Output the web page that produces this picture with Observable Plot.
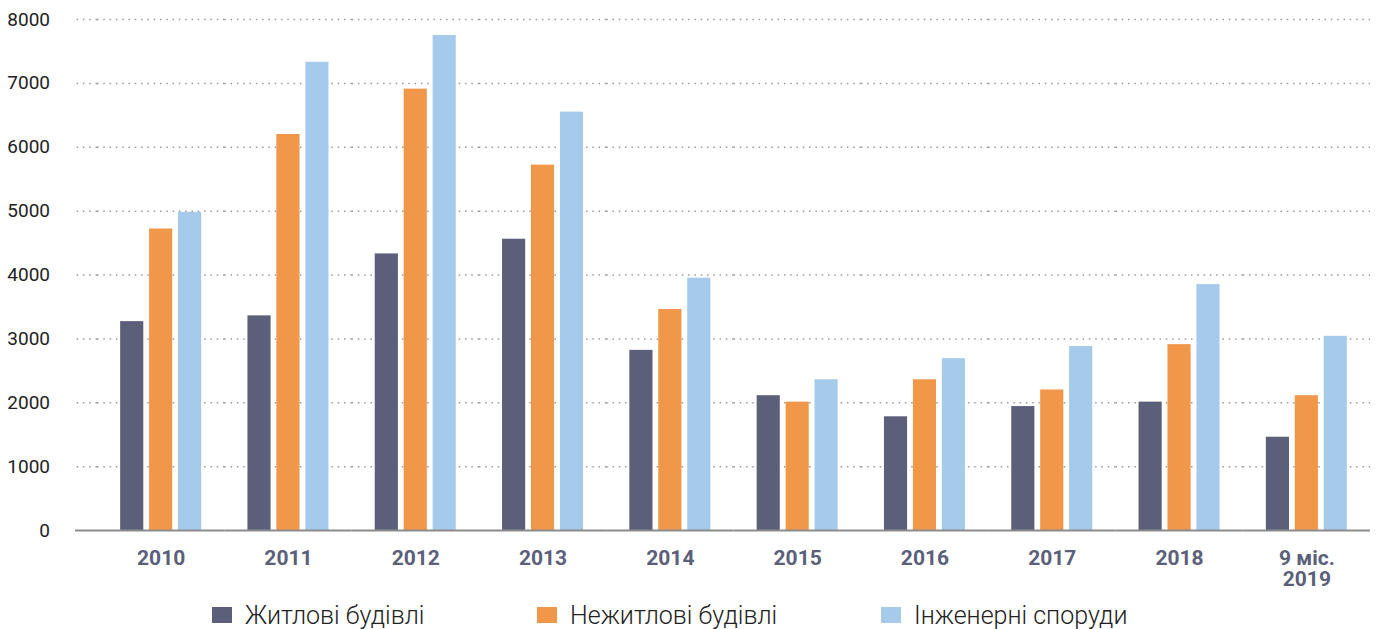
<!DOCTYPE html>
<html>
<head>
<meta charset="utf-8">
<script src="https://cdn.jsdelivr.net/npm/d3@7"></script>
<script src="https://cdn.jsdelivr.net/npm/@observablehq/plot@0.6"></script>
<style>
  body { margin: 0; background: #fff; font-family: Roboto, "DejaVu Sans", sans-serif; }
  #legend { position: relative; width: 1379px; height: 37px; }
  .item { position: absolute; top: 8px; height: 30px; display: flex; align-items: center;
          font-size: 25px; font-weight: 300; color: #222; white-space: nowrap; }
  .sw { width: 20px; height: 16px; margin-right: 13px; }
  g[aria-label="y-axis tick label"] text { font-size: 19px; fill: #222; }
  g[aria-label="y-axis tick"] path { stroke: #9a9a9a; stroke-width: 1.5; stroke-dasharray: 1.5 4.8; }
  g[aria-label="y-axis tick"] path:first-child { stroke: #8c8c8c; stroke-width: 2; stroke-dasharray: none; }
  g[aria-label="fx-axis tick label"] text { font-size: 21px; font-weight: 700; fill: #5b5f7a; }
</style>
</head>
<body>
<div id="chart"></div>
<div id="legend"></div>
<script>
const years = ["2010", "2011", "2012", "2013", "2014", "2015", "2016", "2017", "2018", "9 міс.\n2019"];
const series = ["Житлові будівлі", "Нежитлові будівлі", "Інженерні споруди"];
const colors = ["#5b5f7a", "#f0974a", "#a6cbea"];
const residential    = [3270, 3360, 4330, 4560, 2820, 2110, 1780, 1940, 2010, 1460];
const nonResidential = [4720, 6200, 6910, 5720, 3460, 2010, 2360, 2200, 2910, 2110];
const engineering    = [4980, 7330, 7750, 6550, 3950, 2360, 2690, 2880, 3850, 3040];
const yTicks = [0, 1000, 2000, 3000, 4000, 5000, 6000, 7000, 8000];

const seriesValues = [residential, nonResidential, engineering];
const rows = [];
years.forEach((year, i) => {
  series.forEach((s, j) => rows.push({ year, series: s, value: seriesValues[j][i] }));
});

const chart = Plot.plot({
  width: 1379,
  height: 592,
  marginLeft: 97,
  marginRight: 9,
  marginTop: 19,
  marginBottom: 62,
  style: { fontFamily: "Roboto, 'DejaVu Sans', sans-serif", background: "#fff", fontSize: "19px", color: "#222" },
  fx: { domain: years, paddingInner: 0, paddingOuter: 0, round: false, label: null },
  x: { domain: series, paddingInner: 0.2, paddingOuter: 0.8, round: false, axis: null },
  y: { domain: [0, 8000], ticks: yTicks, tickSize: 22, tickPadding: 25.5, label: null,
       tickFormat: d => String(d) },
  color: { domain: series, range: colors },
  marks: [
    Plot.ruleY(yTicks.filter(d => d > 0), { stroke: "#9a9a9a", strokeWidth: 1.5,
      strokeDasharray: "1.5 4.8" }),
    Plot.barY(rows, { fx: "year", x: "series", y: "value", fill: "series" }),
    Plot.ruleY([0], { stroke: "#8c8c8c", strokeWidth: 2 }),
    Plot.axisFx({ anchor: "bottom", tickSize: 0, tickPadding: 20, lineHeight: 1.0, label: null })
  ]
});
document.getElementById("chart").appendChild(chart);

const legend = document.getElementById("legend");
const lefts = [212, 537, 881];
series.forEach((s, i) => {
  const item = document.createElement("div");
  item.className = "item";
  item.style.left = lefts[i] + "px";
  const sw = document.createElement("div");
  sw.className = "sw";
  sw.style.background = colors[i];
  const label = document.createElement("span");
  label.textContent = s;
  item.appendChild(sw);
  item.appendChild(label);
  legend.appendChild(item);
});
</script>
</body>
</html>
